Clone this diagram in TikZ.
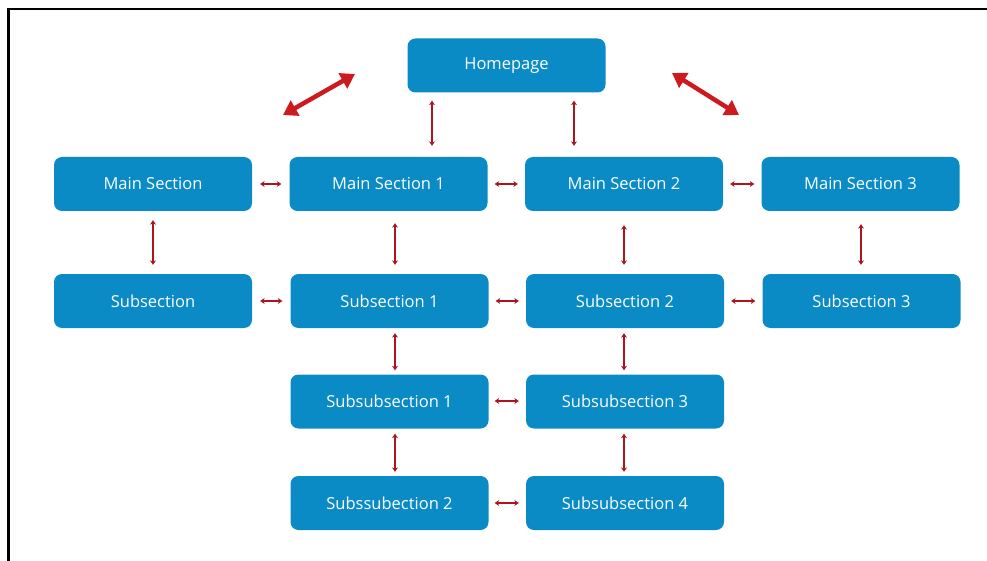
\documentclass[tikz,border=0pt]{standalone}
\usepackage{fontspec}
\setmainfont{Open Sans}
\usetikzlibrary{arrows.meta}
\definecolor{boxblue}{HTML}{0B8BC6}
\definecolor{smallred}{HTML}{A8161F}
\definecolor{bigred}{HTML}{CC1A1E}
\tikzset{
  box/.style={rectangle, rounded corners=8pt, fill=boxblue, draw=none,
    minimum width=198pt, minimum height=54pt, text=white,
    font=\fontsize{16.5}{19}\selectfont, inner sep=0pt},
  sarr/.style={{Stealth[length=4.5pt,width=6pt]}-{Stealth[length=4.5pt,width=6pt]}, draw=smallred, line width=2.1pt},
  barr/.style={{Triangle[length=14pt,width=17pt]}-{Triangle[length=14pt,width=17pt]}, draw=bigred, line width=4.5pt},
}
\begin{document}
\begin{tikzpicture}[x=1pt,y=-1pt]
\useasboundingbox (0,0) rectangle (987,561);
\fill[white] (0,0) rectangle (987,561);
\draw[line width=2.5pt, black] (8.5,562) -- (8.5,9) -- (988,9);

\node[box] (home) at (506.5,65.5) {Homepage};
\node[box] (ms0) at (153,184) {Main Section};
\node[box] (ms1) at (388.5,184) {Main Section 1};
\node[box] (ms2) at (624,184) {Main Section 2};
\node[box] (ms3) at (860.5,184) {Main Section 3};
\node[box] (sub0) at (153,301) {Subsection};
\node[box] (sub1) at (389.5,301) {Subsection 1};
\node[box] (sub2) at (625,301) {Subsection 2};
\node[box] (sub3) at (861.5,301) {Subsection 3};
\node[box] (ss1) at (389.5,401.5) {Subsubsection 1};
\node[box] (ss3) at (625,401.5) {Subsubsection 3};
\node[box] (ss2) at (389.5,503) {Subssubection 2};
\node[box] (ss4) at (625,503) {Subsubsection 4};

% big diagonal arrows
\coordinate (bl1) at (283,115);
\coordinate (bl2) at (355,74);
\coordinate (br1) at (672,73);
\coordinate (br2) at (739,115);
\draw[barr] (bl1) -- (bl2);
\draw[barr] (br1) -- (br2);

% homepage to main sections
\draw[sarr, shorten <=8pt, shorten >=11pt] ([xshift=-74.5pt]home.south) -- ([xshift=43.5pt]ms1.north);
\draw[sarr, shorten <=8pt, shorten >=11pt] ([xshift=67.5pt]home.south) -- ([xshift=-50pt]ms2.north);

% main section row
\draw[sarr, shorten <=8pt, shorten >=8pt] (ms0.east) -- (ms1.west);
\draw[sarr, shorten <=7pt, shorten >=7pt] (ms1.east) -- (ms2.west);
\draw[sarr, shorten <=7pt, shorten >=7pt] (ms2.east) -- (ms3.west);

% main -> subsection
\draw[sarr, shorten <=9pt, shorten >=9pt] (ms0.south) -- (sub0.north);
\draw[sarr, shorten <=12pt, shorten >=9pt] ([xshift=6.5pt]ms1.south) -- ([xshift=5.5pt]sub1.north);
\draw[sarr, shorten <=14pt, shorten >=9pt] (ms2.south) -- ([xshift=-1pt]sub2.north);
\draw[sarr, shorten <=13pt, shorten >=9pt] ([xshift=0.5pt]ms3.south) -- ([xshift=-0.5pt]sub3.north);

% subsection row
\draw[sarr, shorten <=8pt, shorten >=8pt] (sub0.east) -- (sub1.west);
\draw[sarr, shorten <=7pt, shorten >=7pt] (sub1.east) -- (sub2.west);
\draw[sarr, shorten <=7pt, shorten >=7pt] (sub2.east) -- (sub3.west);

% subsection -> subsubsection
\draw[sarr, shorten <=5pt, shorten >=4pt] ([xshift=5.5pt]sub1.south) -- ([xshift=5.5pt]ss1.north);
\draw[sarr, shorten <=5pt, shorten >=4pt] ([xshift=-1pt]sub2.south) -- ([xshift=-1pt]ss3.north);

% subsubsection rows
\draw[sarr, shorten <=6pt, shorten >=7pt] ([yshift=0.5pt]ss1.east) -- ([yshift=0.5pt]ss3.west);
\draw[sarr, shorten <=5pt, shorten >=4pt] ([xshift=5.5pt]ss1.south) -- ([xshift=5.5pt]ss2.north);
\draw[sarr, shorten <=5pt, shorten >=4pt] ([xshift=-1pt]ss3.south) -- ([xshift=-1pt]ss4.north);
\draw[sarr, shorten <=6pt, shorten >=7pt] (ss2.east) -- (ss4.west);
\end{tikzpicture}
\end{document}
